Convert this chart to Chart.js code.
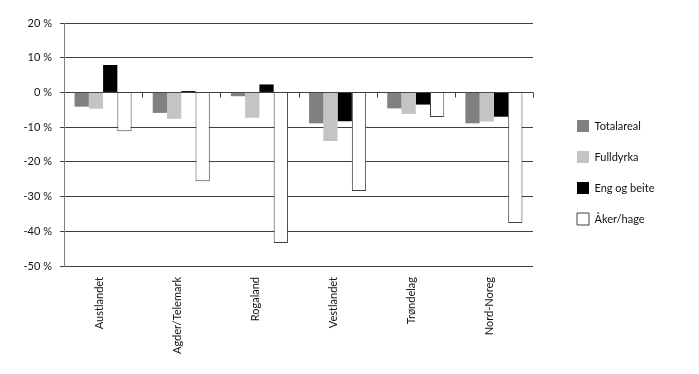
<!DOCTYPE html>
<html>
<head>
<meta charset="utf-8">
<script src="https://cdn.jsdelivr.net/npm/chart.js@4/dist/chart.umd.min.js"></script>
<style>
  html, body { margin: 0; padding: 0; background: #fff; }
  #wrap { width: 699px; height: 374px; }
</style>
</head>
<body>
<div id="wrap"><canvas id="chart" width="699" height="374"></canvas></div>
<script>
// Data
const regions = ['Austlandet', 'Agder/Telemark', 'Rogaland', 'Vestlandet', 'Trøndelag', 'Nord-Noreg'];
const totalareal = [-4.1, -5.9, -1.1, -8.9, -4.6, -8.9];
const fulldyrka = [-4.7, -7.6, -7.3, -14.0, -6.2, -8.4];
const engOgBeite = [7.9, 0.4, 2.3, -8.3, -3.5, -7.0];
const akerHage = [-11.2, -25.6, -43.4, -28.4, -7.1, -37.6];
const yTicks = { min: -50, max: 20, step: 10 };

const FONT = 'Lato, "Open Sans", sans-serif';

// draws the little category ticks on the zero line, like Excel does
const zeroTicks = {
  id: 'zeroTicks',
  beforeDatasetsDraw(chart) {
    const { ctx, scales: { x, y } } = chart;
    const y0 = Math.round(y.getPixelForValue(0)) + 0.5;
    ctx.save();
    ctx.strokeStyle = '#404040';
    ctx.lineWidth = 1;
    ctx.beginPath();
    for (let i = 0; i < regions.length; i++) {
      const bx = Math.round(x.getPixelForValue(i) + (x.getPixelForValue(1) - x.getPixelForValue(0)) / 2) + 0.5;
      ctx.moveTo(bx, y0);
      ctx.lineTo(bx, y0 + 5);
    }
    ctx.stroke();
    ctx.restore();
  }
};

// legend sits on the right with some room before it
const legendPlace = {
  id: 'legendPlace',
  beforeLayout(chart) {
    const lg = chart.legend;
    if (lg && !lg._patched) {
      const fit = lg.fit;
      lg.fit = function () { fit.call(this); this.width = 166; };
      lg._patched = true;
    }
  },
  afterLayout(chart) {
    const lg = chart.legend;
    if (!lg) return;
    lg.left = 558;
    lg.right = 699;
    lg.top = 101;
    lg.bottom = 374;
  }
};

new Chart(document.getElementById('chart'), {
  type: 'bar',
  data: {
    labels: regions,
    datasets: [
      { label: 'Totalareal', data: totalareal, backgroundColor: '#808080', borderWidth: 0 },
      { label: 'Fulldyrka', data: fulldyrka, backgroundColor: '#c4c4c4', borderWidth: 0 },
      { label: 'Eng og beite', data: engOgBeite, backgroundColor: '#000000', borderWidth: 0 },
      { label: 'Åker/hage', data: akerHage, backgroundColor: '#ffffff', borderColor: '#404040', borderWidth: 1 }
    ]
  },
  options: {
    responsive: false,
    animation: false,
    devicePixelRatio: 1,
    layout: { padding: { top: 23, right: 0, bottom: 0, left: 0 } },
    datasets: { bar: { categoryPercentage: 0.73, barPercentage: 1 } },
    plugins: {
      tooltip: { enabled: false },
      legend: {
        position: 'right',
        align: 'start',
        labels: {
          boxWidth: 12,
          boxHeight: 12,
          padding: 19,
          color: '#111',
          font: { family: FONT, size: 11 }
        }
      }
    },
    scales: {
      x: {
        grid: { display: false, drawTicks: false },
        border: { display: false },
        ticks: {
          maxRotation: 90,
          minRotation: 90,
          padding: 11,
          labelOffset: -4,
          color: '#111',
          font: { family: FONT, size: 11 }
        },
        afterFit(s) { s.height = 108; }
      },
      y: {
        min: yTicks.min,
        max: yTicks.max,
        ticks: {
          stepSize: yTicks.step,
          padding: 8,
          color: '#111',
          font: { family: FONT, size: 11 },
          callback: v => v + ' %'
        },
        grid: { color: '#404040', lineWidth: 1, drawTicks: true, tickLength: 4 },
        border: { display: true, color: '#808080', width: 1 },
        afterFit(s) { s.width = 64; }
      }
    }
  },
  plugins: [zeroTicks, legendPlace]
});
</script>
</body>
</html>
